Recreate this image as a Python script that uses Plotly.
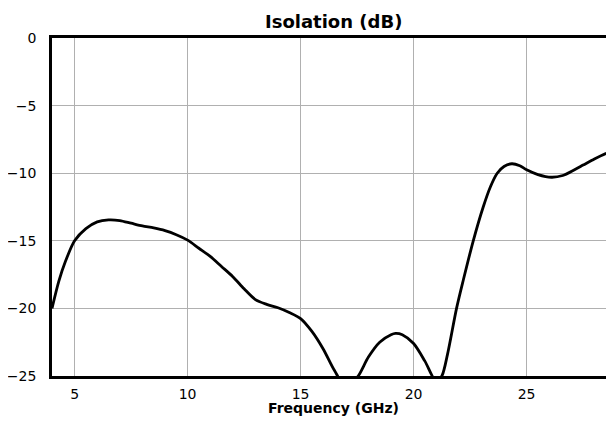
import plotly.graph_objects as go

freq_ghz = [4.0, 4.3, 4.6, 5.0, 5.5, 6.0, 6.5, 7.0, 7.5, 8.0, 8.5, 9.0, 9.5, 10.0,
            10.5, 11.0, 11.5, 12.0, 12.5, 13.0, 13.5, 14.0, 14.5, 15.0, 15.5, 16.0,
            16.5, 17.05, 17.55, 18.0, 18.5, 19.0, 19.2, 19.5, 20.0, 20.5, 21.0,
            21.25, 21.5, 21.9, 22.2, 22.64, 23.08, 23.4, 23.7, 24.0, 24.35, 24.7,
            25.0, 25.5, 26.1, 26.6, 27.1, 27.5, 28.0, 28.5, 29.0]
isolation_db = [-20.0, -18.0, -16.5, -15.0, -14.1, -13.6, -13.45, -13.5, -13.7, -13.9,
                -14.05, -14.25, -14.55, -14.95, -15.55, -16.15, -16.9, -17.65, -18.55,
                -19.35, -19.7, -19.95, -20.3, -20.75, -21.7, -23.0, -24.6, -25.9, -25.0,
                -23.6, -22.5, -21.95, -21.85, -21.95, -22.6, -23.9, -25.4, -25.0, -23.4,
                -20.0, -17.9, -15.0, -12.5, -11.0, -10.0, -9.5, -9.3, -9.45, -9.75,
                -10.1, -10.3, -10.17, -9.76, -9.4, -8.95, -8.55, -8.25]

x_ticks = [5, 10, 15, 20, 25]
y_ticks = [0, -5, -10, -15, -20, -25]
y_tick_text = ["0", "\u22125", "\u221210", "\u221215", "\u221220", "\u221225"]

title_text = "Isolation (dB)"
x_title_text = "Frequency (GHz)"

W, H = 640, 408
L, T, B = 44, 30, 40
px_per_ghz = 22.6
x_min = 4.0
x_max = x_min + (W - L) / px_per_ghz
# centre of the visible plot area (page x 52..614 -> fig x 44..606)
center_paper = ((44 + 606) / 2 - L) / (W - L)

fig = go.Figure()
fig.add_trace(go.Scatter(x=freq_ghz, y=isolation_db, mode="lines",
                         line=dict(color="black", width=2.8, shape="spline", smoothing=0.8)))

font = "DejaVu Sans"
fig.update_layout(
    width=W, height=H,
    margin=dict(l=L, r=0, t=T, b=B),
    paper_bgcolor="white", plot_bgcolor="white",
    showlegend=False,
    font=dict(family=font, size=14, color="black"),
    annotations=[
        dict(text="<b>" + title_text + "</b>", xref="paper", yref="paper", x=center_paper, y=1,
             xanchor="center", yanchor="middle", yshift=17, showarrow=False,
             font=dict(family=font, size=18, color="black")),
        dict(text="<b>" + x_title_text + "</b>", xref="paper", yref="paper", x=center_paper, y=0,
             xanchor="center", yanchor="middle", yshift=-32, showarrow=False,
             font=dict(family=font, size=14, color="black")),
    ],
)
fig.update_xaxes(range=[x_min, x_max], tickvals=x_ticks, showgrid=True, gridcolor="#b0b0b0", gridwidth=1,
                 showline=True, linecolor="black", linewidth=2.7, mirror=True, ticks="",
                 zeroline=False, ticklabelstandoff=3)
fig.update_yaxes(range=[-25, 0], tickvals=y_ticks, ticktext=y_tick_text, showgrid=True,
                 gridcolor="#b0b0b0", gridwidth=1, showline=True, linecolor="black", linewidth=2.7,
                 ticks="", zeroline=False, ticklabelstandoff=10)
fig.write_html("out.html")
